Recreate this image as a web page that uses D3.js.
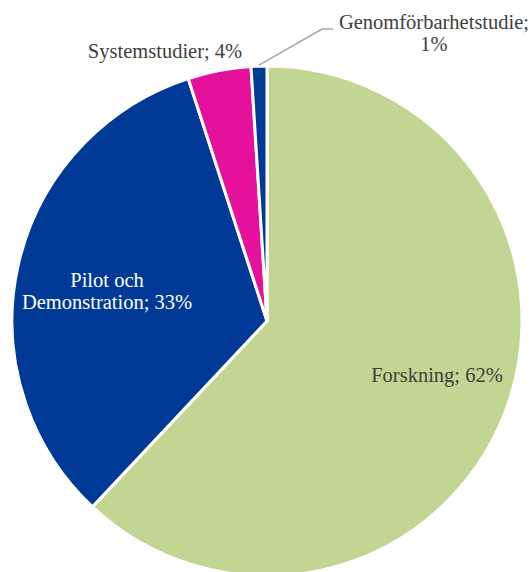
<!DOCTYPE html>
<html>
<head>
<meta charset="utf-8">
<script src="https://cdn.jsdelivr.net/npm/d3@7"></script>
<style>
  html, body { margin: 0; padding: 0; background: #fff; }
  svg { display: block; }
  text { font-family: "Liberation Serif", "Times New Roman", Times, serif; }
</style>
</head>
<body>
<svg id="chart" width="532" height="572"></svg>
<script>
// Fördelning av projekt per kategori (andel i procent)
const categories = ["Forskning", "Pilot och Demonstration", "Systemstudier", "Genomförbarhetstudie"];
const shares = [62, 33, 4, 1];
const colors = ["#C3D593", "#003A96", "#E5109B", "#003A96"];

// Etikettrader per kategori
const labelLines = [
  ["Forskning; 62%"],
  ["Pilot och", "Demonstration; 33%"],
  ["Systemstudier; 4%"],
  ["Genomförbarhetstudie;", "1%"]
];

const width = 532, height = 572;
const cx = 267, cy = 321, radius = 255;

const svg = d3.select("#chart");
const g = svg.append("g").attr("transform", `translate(${cx},${cy})`);

const data = categories.map((c, i) => ({ name: c, value: shares[i], color: colors[i], lines: labelLines[i] }));

const pie = d3.pie().value(d => d.value).sort(null);
const arc = d3.arc().innerRadius(0).outerRadius(radius);
const arcs = pie(data);

g.selectAll("path.slice")
  .data(arcs)
  .join("path")
  .attr("class", "slice")
  .attr("d", arc)
  .attr("fill", d => d.data.color)
  .attr("stroke", "#fff")
  .attr("stroke-width", 3)
  .attr("stroke-linejoin", "miter");

// Etikettplacering (relativt centrum)
const labelPos = [
  { x: 170, y: 61, color: "#404040" },
  { x: -160, y: -34, color: "#ffffff" },
  { x: -102, y: -263, color: "#404040" },
  { x: 167, y: -292, color: "#404040" }
];
const lineHeight = 22;

arcs.forEach((a, i) => {
  const p = labelPos[i];
  const t = g.append("text")
    .attr("text-anchor", "middle")
    .style("font-size", "20.5px")
    .attr("fill", p.color);
  a.data.lines.forEach((ln, j) => {
    t.append("tspan").attr("x", p.x).attr("y", p.y + j * lineHeight).text(ln);
  });
});

// Hänvisningslinje för den minsta sektorn
const small = arcs[3];
const mid = (small.startAngle + small.endAngle) / 2;
const r0 = radius + 1;
const start = [Math.sin(mid) * r0, -Math.cos(mid) * r0];
g.append("polyline")
  .attr("points", [start, [55, -292], [66, -292]].map(p => p.join(",")).join(" "))
  .attr("fill", "none")
  .attr("stroke", "#A6A6A6")
  .attr("stroke-width", 1.5);
</script>
</body>
</html>
